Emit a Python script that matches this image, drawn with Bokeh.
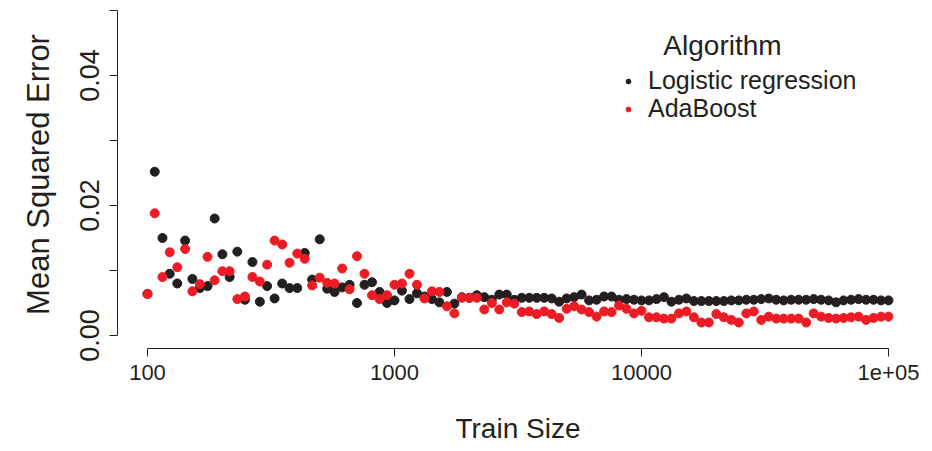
from bokeh.plotting import figure
from bokeh.models import Range1d, FixedTicker, Legend, LegendItem, Label, ColumnDataSource
from bokeh.embed import file_html
from bokeh.resources import INLINE

# ---------------- data ----------------
train_size = [100, 107, 115, 123, 132, 142, 152, 163, 175, 187,
              201, 215, 231, 248, 266, 285, 305, 327, 351, 376,
              404, 433, 464, 498, 534, 572, 614, 658, 705, 756,
              811, 870, 933, 1000, 1072, 1150, 1233, 1322, 1417, 1520,
              1630, 1748, 1874, 2009, 2154, 2310, 2477, 2656, 2848, 3054,
              3275, 3511, 3765, 4037, 4329, 4642, 4977, 5337, 5722, 6136,
              6579, 7055, 7565, 8111, 8697, 9326, 10000, 10723, 11498, 12328,
              13219, 14175, 15199, 16298, 17475, 18738, 20092, 21544, 23101, 24771,
              26561, 28480, 30539, 32745, 35112, 37649, 40370, 43288, 46416, 49770,
              53367, 57224, 61359, 65793, 70548, 75646, 81113, 86975, 93260, 100000]

logistic_mse = [0.0064, 0.0252, 0.0150, 0.0095, 0.0080, 0.0146, 0.0087, 0.0073, 0.0076, 0.0180,
                0.0125, 0.0090, 0.0129, 0.0055, 0.0113, 0.0052, 0.0076, 0.0057, 0.0080, 0.0073,
                0.0073, 0.0127, 0.0086, 0.0148, 0.0072, 0.0067, 0.0074, 0.0078, 0.0050, 0.0078,
                0.0082, 0.0067, 0.0050, 0.0054, 0.0069, 0.0056, 0.0065, 0.0060, 0.0056, 0.0051,
                0.0067, 0.0049, 0.0059, 0.0058, 0.0062, 0.0059, 0.0055, 0.0063, 0.0063, 0.0055,
                0.0058, 0.0058, 0.0058, 0.0058, 0.0057, 0.0052, 0.0057, 0.0059, 0.0063, 0.0054,
                0.0055, 0.0060, 0.0060, 0.0055, 0.0056, 0.0055, 0.0054, 0.0054, 0.0056, 0.0059,
                0.0052, 0.0055, 0.0057, 0.0053, 0.0053, 0.0053, 0.0053, 0.0053, 0.0054, 0.0054,
                0.0055, 0.0055, 0.0056, 0.0057, 0.0055, 0.0054, 0.0055, 0.0055, 0.0055, 0.0056,
                0.0055, 0.0054, 0.0051, 0.0054, 0.0055, 0.0056, 0.0055, 0.0055, 0.0054, 0.0054]

adaboost_mse = [0.0064, 0.0188, 0.0090, 0.0128, 0.0105, 0.0133, 0.0068, 0.0079, 0.0121, 0.0085,
                0.0099, 0.0099, 0.0056, 0.0060, 0.0090, 0.0083, 0.0109, 0.0146, 0.0140, 0.0112,
                0.0126, 0.0118, 0.0077, 0.0089, 0.0081, 0.0080, 0.0103, 0.0071, 0.0122, 0.0095,
                0.0062, 0.0056, 0.0062, 0.0078, 0.0080, 0.0095, 0.0078, 0.0057, 0.0068, 0.0067,
                0.0045, 0.0034, 0.0058, 0.0058, 0.0058, 0.0040, 0.0050, 0.0040, 0.0051, 0.0049,
                0.0036, 0.0037, 0.0033, 0.0037, 0.0033, 0.0027, 0.0041, 0.0045, 0.0040, 0.0036,
                0.0029, 0.0037, 0.0036, 0.0046, 0.0041, 0.0034, 0.0038, 0.0028, 0.0028, 0.0026,
                0.0026, 0.0034, 0.0037, 0.0028, 0.0020, 0.0020, 0.0033, 0.0028, 0.0024, 0.0020,
                0.0034, 0.0037, 0.0024, 0.0029, 0.0026, 0.0026, 0.0026, 0.0026, 0.0020, 0.0034,
                0.0029, 0.0027, 0.0026, 0.0027, 0.0028, 0.0029, 0.0024, 0.0027, 0.0029, 0.0029]

series_names = ["Logistic regression", "AdaBoost"]
legend_title = "Algorithm"
x_label = "Train Size"
y_label = "Mean Squared Error"
x_ticks = [100, 1000, 10000, 100000]
x_tick_labels = ["100", "1000", "10000", "1e+05"]
y_ticks = [0.0, 0.02, 0.04]
y_tick_labels = ["0.00", "0.02", "0.04"]
y_minor_ticks = [0.01, 0.03, 0.05]

# ---------------- style ----------------
BLACK = "#231F20"
RED = "#ED1C24"
FONT = "Liberation Sans"

W, H = 932, 451
F_LEFT, F_RIGHT, F_TOP, F_BOTTOM = 117, 918, 0, 348
PX_PER_DECADE = 247.0
PX_PER_UNIT = 6500.0

x_range = Range1d(10 ** (2 - 30 / PX_PER_DECADE), 10 ** (5 + 30 / PX_PER_DECADE))
y_range = Range1d(-13 / PX_PER_UNIT, 0.05 + 10 / PX_PER_UNIT)

p = figure(width=W, height=H, x_axis_type="log", x_range=x_range, y_range=y_range,
           output_backend="svg", toolbar_location=None,
           min_border_left=F_LEFT, min_border_right=W - F_RIGHT,
           min_border_top=F_TOP, min_border_bottom=H - F_BOTTOM)
p.outline_line_color = None
p.grid.visible = False
p.background_fill_color = "white"

src = ColumnDataSource(dict(x=train_size, lr=logistic_mse, ab=adaboost_mse))
r_lr = p.scatter("x", "lr", source=src, size=9, fill_color=BLACK, line_color=BLACK)
r_ab = p.scatter("x", "ab", source=src, size=9, fill_color=RED, line_color=RED)

# x axis
xa = p.xaxis[0]
xa.ticker = FixedTicker(ticks=x_ticks)
xa.major_label_overrides = dict(zip(x_ticks, x_tick_labels))
xa.bounds = (x_ticks[0], x_ticks[-1])
xa.major_tick_out = 8
xa.major_tick_in = 0
xa.minor_tick_out = 0
xa.minor_tick_in = 0
xa.major_label_standoff = 8
xa.major_label_text_font = FONT
xa.major_label_text_font_size = "22px"
xa.major_label_text_color = BLACK
xa.axis_label = x_label
xa.axis_label_text_font = FONT
xa.axis_label_text_font_size = "28px"
xa.axis_label_text_font_style = "normal"
xa.axis_label_text_color = BLACK
xa.axis_label_standoff = 30
xa.axis_line_color = BLACK
xa.major_tick_line_color = BLACK

# y axis
ya = p.yaxis[0]
ya.ticker = FixedTicker(ticks=y_ticks, minor_ticks=y_minor_ticks)
ya.major_label_overrides = dict(zip(y_ticks, y_tick_labels))
ya.bounds = (0.0, 0.05)
ya.major_tick_out = 8
ya.major_tick_in = 0
ya.minor_tick_out = 8
ya.minor_tick_in = 0
ya.minor_tick_line_color = BLACK
ya.major_label_orientation = "vertical"
ya.major_label_standoff = 11
ya.major_label_text_font = FONT
ya.major_label_text_font_size = "27px"
ya.major_label_text_color = BLACK
ya.axis_label = y_label
ya.axis_label_text_font = FONT
ya.axis_label_text_font_size = "31px"
ya.axis_label_text_font_style = "normal"
ya.axis_label_text_color = BLACK
ya.axis_label_standoff = 21
ya.axis_line_color = BLACK
ya.major_tick_line_color = BLACK

# legend: one row per Legend so rows sit at the reference spacing
row_centers = [81, 109]          # canvas y of each legend row
glyph_cx = 628                   # canvas x of legend markers
ROW_H = 28
for name, rend, cy in zip(series_names, [r_lr, r_ab], row_centers):
    leg = Legend(items=[LegendItem(label=name, renderers=[rend])],
                 location=(glyph_cx - 6 - F_LEFT, F_BOTTOM - (cy + ROW_H // 2)),
                 padding=0, margin=0, spacing=0,
                 glyph_width=12, glyph_height=ROW_H, label_height=ROW_H,
                 label_standoff=14,
                 border_line_alpha=0, background_fill_alpha=0,
                 label_text_font=FONT, label_text_font_size="25px",
                 label_text_color=BLACK)
    p.add_layout(leg)

p.add_layout(Label(x=722 - F_LEFT, y=F_BOTTOM - 45, x_units="screen", y_units="screen",
                   text=legend_title, text_align="center", text_baseline="middle",
                   text_font=FONT, text_font_size="28px", text_color=BLACK))

open("out.html", "w").write(file_html(p, INLINE))
